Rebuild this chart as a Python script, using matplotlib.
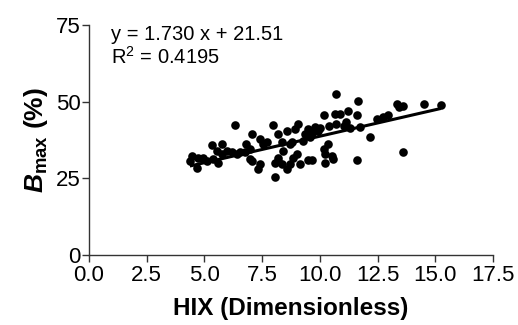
import matplotlib
matplotlib.use("Agg")
import matplotlib.pyplot as plt
import numpy as np

plt.rcParams["font.family"] = ["Liberation Sans", "DejaVu Sans"]
plt.rcParams["mathtext.fontset"] = "custom"
plt.rcParams["mathtext.rm"] = "Liberation Sans:bold"
plt.rcParams["mathtext.it"] = "Liberation Sans:italic:bold"
plt.rcParams["mathtext.bf"] = "Liberation Sans:bold"

# HIX (dimensionless) and Bmax (%) observations
hix = [
    4.37, 4.45, 4.66, 4.73, 4.95, 5.10, 5.38, 5.60, 5.31, 5.75, 5.53, 5.75,
    5.96, 6.18, 6.40, 6.54, 6.32, 6.79, 6.76, 6.97, 7.05, 6.97,
    7.40, 7.55, 7.05, 7.40, 7.33, 7.70, 7.98, 8.20, 8.35, 8.41, 8.70, 8.56,
    8.92, 9.06, 8.20, 8.35, 8.85, 8.70, 8.56, 8.06, 8.06, 8.20, 8.78, 9.00,
    9.14, 9.50, 9.64, 9.28, 9.35, 9.57, 9.64, 9.50, 9.79, 9.93, 10.19, 10.22,
    10.37, 10.18, 10.51, 10.58, 10.22, 10.68, 10.65, 10.87, 10.70, 11.06,
    11.13, 11.23, 10.00, 10.40,
    11.66, 11.62, 11.74, 12.17, 11.62, 12.49, 12.75, 12.96, 13.35, 13.44,
    13.61, 14.51, 15.24, 13.61, 11.30,
]
bmax = [
    30.8, 32.4, 28.4, 31.8, 31.8, 30.8, 31.3, 30.2, 36.0, 36.2, 34.0, 33.0,
    34.0, 33.5, 33.0, 33.8, 42.6, 36.4, 33.5, 31.3, 39.7, 34.6,
    37.9, 36.2, 30.8, 29.7, 28.0, 36.8, 42.5, 39.5, 36.8, 34.0, 36.2, 40.6,
    41.2, 42.8, 30.8, 29.7, 31.8, 29.7, 28.0, 25.5, 30.2, 31.8, 36.8, 33.0,
    29.7, 31.0, 31.0, 37.3, 39.5, 38.5, 40.0, 41.2, 41.7, 40.6, 45.9, 33.0,
    36.4, 34.6, 32.4, 31.3, 29.9, 52.7, 46.1, 46.1, 42.8, 42.3,
    43.4, 47.2, 41.5, 42.0,
    50.2, 45.8, 41.7, 38.7, 31.0, 44.5, 45.0, 45.8, 49.4, 48.3,
    48.8, 49.4, 49.0, 33.8, 41.6,
]

# Linear fit reported on the chart
slope = 1.730
intercept = 21.51
r_squared = 0.4195

x_ticks = [0.0, 2.5, 5.0, 7.5, 10.0, 12.5, 15.0, 17.5]
y_ticks = [0, 25, 50, 75]

fig = plt.figure(figsize=(5.18, 3.25), dpi=100)
ax = fig.add_axes([0.1718, 0.2154, 0.7799, 0.7062])

ax.plot(hix, bmax, "o", color="black", markersize=6.2, markeredgewidth=0)
xfit = np.array([min(hix), max(hix)])
ax.plot(xfit, slope * xfit + intercept, color="black", linewidth=2.2,
        solid_capstyle="butt")

ax.set_xlim(0, 17.5)
ax.set_ylim(0, 75)
ax.set_xticks(x_ticks)
ax.set_xticklabels([f"{t:.1f}" for t in x_ticks])
ax.set_yticks(y_ticks)

for side in ("top", "right"):
    ax.spines[side].set_visible(False)
for side in ("left", "bottom"):
    ax.spines[side].set_color("#333333")
    ax.spines[side].set_linewidth(1.0)

ax.tick_params(axis="both", direction="out", length=5, width=1.0,
               color="#333333", labelsize=16)
ax.tick_params(axis="x", pad=2)
ax.tick_params(axis="y", pad=1)

ax.set_xlabel("HIX (Dimensionless)", fontsize=17.5, fontweight="bold",
              labelpad=8)
ax.set_ylabel(r"$B_{\mathbf{max}}$ (%)", fontsize=19, fontweight="bold",
              labelpad=4)

ax.text(0.055, 1.0, f"y = {slope:.3f} x + {intercept:.2f}\n"
        f"R$^{{\\mathregular{{2}}}}$ = {r_squared:.4f}",
        transform=ax.transAxes, ha="left", va="top", fontsize=14.5,
        linespacing=1.1)

fig.savefig("out.png", dpi=100)
